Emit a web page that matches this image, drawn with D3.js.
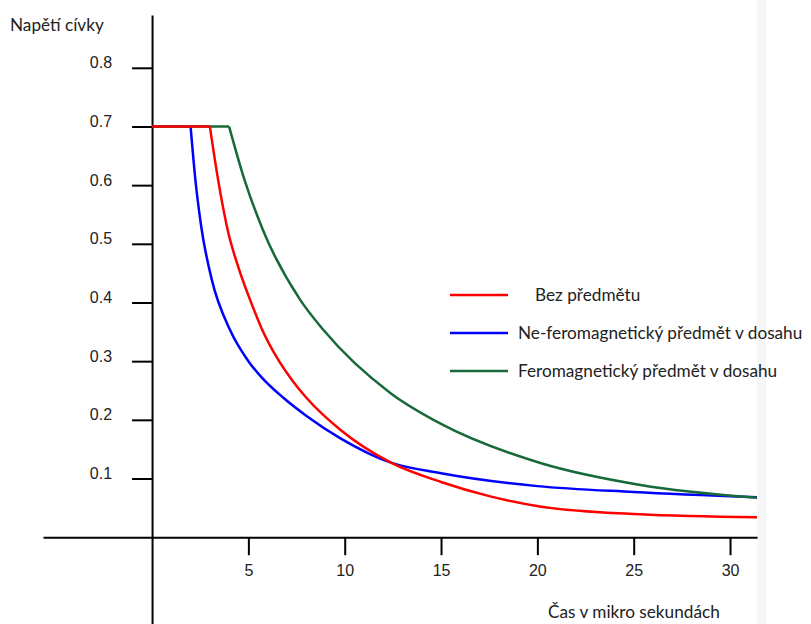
<!DOCTYPE html>
<html lang="cs">
<head>
<meta charset="utf-8"/>
<style>
body { margin: 0; background: #fff; }
.axis text { font-family: "Liberation Sans", Arial, sans-serif; font-size: 16px; fill: #222; }
.axis path, .axis line { stroke: #000; stroke-width: 2px; }
.lbl { font-family: Lato, "Open Sans", sans-serif; font-size: 17.2px; fill: #222; }
</style>
</head>
<body>
<svg width="811" height="624"></svg>
<script src="https://d3js.org/d3.v7.min.js"></script>
<script>

// tick labels
var xTicks = [5, 10, 15, 20, 25, 30];
var yTicks = [0.1, 0.2, 0.3, 0.4, 0.5, 0.6, 0.7, 0.8];

// series names + colours
var names = ["Bez předmětu", "Ne-feromagnetický předmět v dosahu", "Feromagnetický předmět v dosahu"];
var colors = ["#ff0000", "#0000ff", "#17693a"];

// flat part (0 .. t0 at 0.7), then the decay
var bezT = [3, 3.43, 3.95, 4.5, 5.2, 5.7, 6.5, 7.26, 8.0, 9.77, 12.4, 15, 17.5, 20.2, 25.3, 31.4];
var bezV = [0.7, 0.609, 0.52, 0.458, 0.395, 0.355, 0.305, 0.268, 0.238, 0.183, 0.127, 0.094, 0.07, 0.052, 0.039, 0.034];

var neT = [2, 2.25, 2.55, 3.1, 4.05, 5.0, 5.7, 6.8, 8.0, 9.8, 12.4, 15, 20, 25, 31.4];
var neV = [0.7, 0.609, 0.53, 0.439, 0.353, 0.3, 0.272, 0.238, 0.207, 0.168, 0.127, 0.109, 0.087, 0.077, 0.068];

var feT = [4, 4.8, 5.75, 7.7, 8.9, 12.4, 15, 20.2, 25.35, 31.4];
var feV = [0.7, 0.609, 0.524, 0.404, 0.353, 0.245, 0.193, 0.126, 0.089, 0.067];

var svg = d3.select("svg");

var x = d3.scaleLinear().domain([-5.66, 31.4]).range([43, 757]);
var y = d3.scaleLinear().domain([-0.148, 0.89]).range([624, 15]);

// light strip at the right edge
svg.append("rect")
    .attr("x", 757).attr("y", 0)
    .attr("width", 9).attr("height", 624)
    .attr("fill", "#f6f6f6");

svg.append("g")
    .attr("class", "axis")
    .attr("transform", "translate(0," + y(0) + ")")
    .call(d3.axisBottom(x).tickValues(xTicks).tickSize(18).tickSizeOuter(0).tickPadding(9).tickFormat(d3.format("d")));

svg.append("g")
    .attr("class", "axis")
    .attr("transform", "translate(" + x(0) + ",0)")
    .call(d3.axisLeft(y).tickValues(yTicks).tickSize(20).tickSizeOuter(0).tickPadding(20).tickFormat(d3.format(".1f")))
    .selectAll("text").attr("dy", "0");

var series = [
  {t: neT, v: neV, c: colors[1]},
  {t: feT, v: feV, c: colors[2]},
  {t: bezT, v: bezV, c: colors[0]}
];

var curve = d3.line()
    .x(function(d) { return x(d[0]); })
    .y(function(d) { return y(d[1]); })
    .curve(d3.curveMonotoneX);

var flat = d3.line()
    .x(function(d) { return x(d[0]); })
    .y(function(d) { return y(d[1]); });

series.forEach(function(s) {
  var pts = s.t.map(function(t, i) { return [t, s.v[i]]; });
  svg.append("path")
      .attr("d", flat([[0, s.v[0]], pts[0]]))
      .attr("fill", "none").attr("stroke", s.c).attr("stroke-width", 2.5);
  svg.append("path")
      .attr("d", curve(pts))
      .attr("fill", "none").attr("stroke", s.c).attr("stroke-width", 2.5);
});

// legend
var legY = [295, 333, 371];
var legX = [535, 518, 518];
var leg = svg.append("g").selectAll("g")
    .data(names)
    .enter().append("g")
    .attr("transform", function(d, i) { return "translate(0," + legY[i] + ")"; });

leg.append("line")
    .attr("x1", 450).attr("x2", 508)
    .attr("stroke", function(d, i) { return colors[i]; })
    .attr("stroke-width", 2.5);

leg.append("text")
    .attr("class", "lbl")
    .attr("x", function(d, i) { return legX[i]; })
    .attr("dy", "0.32em")
    .text(function(d) { return d; });

// axis titles
svg.append("text").attr("class", "lbl")
    .attr("x", 10).attr("y", 25).attr("dy", "0.32em")
    .text("Napětí cívky");

svg.append("text").attr("class", "lbl")
    .attr("x", 548).attr("y", 612).attr("dy", "0.32em")
    .text("Čas v mikro sekundách");

</script>
</body>
</html>
